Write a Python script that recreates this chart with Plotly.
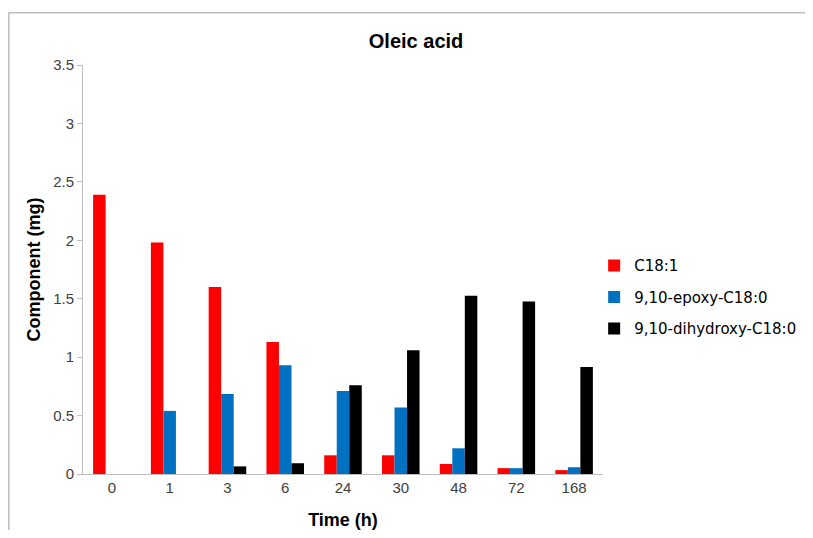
import plotly.graph_objects as go

categories = ["0", "1", "3", "6", "24", "30", "48", "72", "168"]
c18_1 = [2.39, 1.98, 1.60, 1.13, 0.16, 0.16, 0.086, 0.05, 0.033]
epoxy = [0.0, 0.54, 0.685, 0.93, 0.71, 0.57, 0.22, 0.05, 0.058]
dihydroxy = [0.0, 0.0, 0.065, 0.092, 0.76, 1.06, 1.525, 1.477, 0.915]

series_names = ["C18:1", "9,10-epoxy-C18:0", "9,10-dihydroxy-C18:0"]
series_values = [c18_1, epoxy, dihydroxy]
series_colors = ["#FF0000", "#0070C0", "#000000"]

narrow = "Liberation Sans Narrow, Arial Narrow, Liberation Sans, sans-serif"

fig = go.Figure()
for name, vals, col in zip(series_names, series_values, series_colors):
    fig.add_trace(go.Bar(x=categories, y=vals, name=name, marker_color=col,
                         marker_line_width=0, legendgroup=name))

fig.update_layout(
    width=797, height=522,
    margin=dict(l=75, r=202, t=57, b=56, autoexpand=False),
    paper_bgcolor="white", plot_bgcolor="white",
    barmode="group", bargap=0.35, bargroupgap=0,
    title=dict(text="<b>Oleic acid</b>", x=0.512, xref="container", xanchor="center",
               y=0.937, yref="container", yanchor="middle",
               font=dict(family=narrow, size=20, color="#000000")),
    legend=dict(x=0.983, y=0.432, xanchor="left", yanchor="middle",
                traceorder="grouped", tracegroupgap=9,
                font=dict(family="DejaVu Sans, sans-serif", size=15, color="#000000"),
                bgcolor="rgba(0,0,0,0)"),
    showlegend=True,
)

fig.update_xaxes(
    type="category", showline=True, linecolor="#BFBFBF", linewidth=1,
    ticks="", showgrid=False, zeroline=False, automargin=False,
    tickfont=dict(family=narrow, size=15, color="#404040"),
    title=dict(text="<b>Time (h)</b>", standoff=20,
               font=dict(family=narrow, size=18, color="#000000")),
)
fig.update_yaxes(
    range=[0, 3.5], dtick=0.5, tick0=0, showline=True, linecolor="#BFBFBF", linewidth=1,
    ticks="outside", ticklen=5, tickcolor="#BFBFBF", showgrid=False, zeroline=False,
    automargin=False,
    tickfont=dict(family=narrow, size=15, color="#404040"),
    title=dict(text="<b>Component (mg)</b>", standoff=7,
               font=dict(family=narrow, size=18, color="#000000")),
)

# chart-area border (only top and left edges are visible in the reference)
fig.add_shape(type="line", xref="paper", yref="paper", x0=-0.1428, x1=-0.1428, y0=-0.2, y1=1.128,
              line=dict(color="#BDBDBD", width=1.5))
fig.add_shape(type="line", xref="paper", yref="paper", x0=-0.1428, x1=1.45, y0=1.128, y1=1.128,
              line=dict(color="#BDBDBD", width=1.5))

fig.write_html("out.html")
